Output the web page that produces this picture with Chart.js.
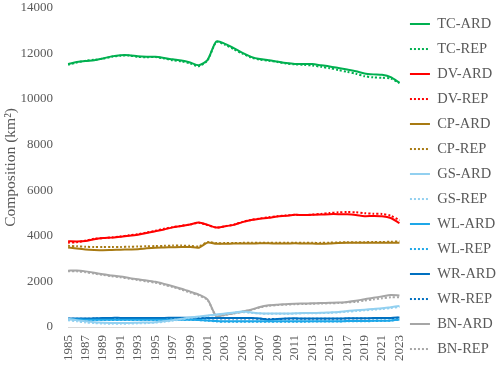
<!DOCTYPE html>
<html lang="en">
<head>
<meta charset="UTF-8">
<title>Composition</title>
<script src="https://cdn.jsdelivr.net/npm/chart.js"></script>
<style>
  html, body { margin: 0; padding: 0; background: #fff; }
  #wrap { width: 498px; height: 369px; }
</style>
</head>
<body>
<div id="wrap"><canvas id="chart"></canvas></div>
<script>
const years = [];
for (let y = 1985; y <= 2023; y++) years.push(String(y));

const TC_ARD = [11530, 11620, 11670, 11700, 11780, 11870, 11920, 11920, 11870, 11850, 11850, 11800, 11740, 11690, 11600, 11480, 11720, 12520, 12420, 12230, 12020, 11850, 11750, 11700, 11640, 11580, 11540, 11540, 11530, 11480, 11430, 11360, 11290, 11220, 11120, 11080, 11060, 10960, 10710];
const TC_REP = [11500, 11600, 11680, 11720, 11770, 11850, 11900, 11910, 11850, 11830, 11840, 11780, 11700, 11650, 11560, 11440, 11700, 12500, 12380, 12180, 11990, 11820, 11720, 11680, 11620, 11560, 11520, 11500, 11470, 11410, 11350, 11270, 11190, 11110, 11000, 10950, 10930, 10900, 10700];
const DV_ARD = [3760, 3750, 3770, 3850, 3900, 3920, 3960, 4000, 4050, 4120, 4200, 4280, 4370, 4430, 4500, 4580, 4480, 4360, 4420, 4480, 4600, 4690, 4750, 4790, 4850, 4880, 4920, 4910, 4920, 4930, 4950, 4950, 4940, 4910, 4860, 4870, 4860, 4780, 4560];
const DV_REP = [3700, 3720, 3790, 3870, 3900, 3930, 3970, 4020, 4070, 4140, 4220, 4310, 4380, 4440, 4500, 4570, 4470, 4360, 4420, 4490, 4610, 4700, 4760, 4810, 4860, 4890, 4920, 4910, 4930, 4960, 5000, 5030, 5040, 5030, 4990, 4970, 4960, 4880, 4680];
const CP_ARD = [3490, 3440, 3400, 3380, 3370, 3380, 3390, 3400, 3410, 3450, 3480, 3490, 3500, 3510, 3510, 3480, 3700, 3650, 3650, 3660, 3660, 3660, 3670, 3670, 3660, 3660, 3670, 3660, 3660, 3650, 3660, 3680, 3690, 3690, 3690, 3690, 3690, 3690, 3690];
const CP_REP = [3560, 3540, 3520, 3510, 3510, 3510, 3510, 3520, 3530, 3540, 3550, 3560, 3570, 3570, 3560, 3540, 3720, 3680, 3680, 3680, 3690, 3690, 3690, 3690, 3690, 3690, 3690, 3690, 3690, 3690, 3700, 3710, 3720, 3720, 3720, 3730, 3730, 3740, 3760];
const GS_ARD = [360, 300, 250, 210, 190, 180, 175, 180, 190, 195, 210, 250, 300, 360, 420, 460, 500, 550, 590, 640, 680, 640, 600, 590, 590, 590, 600, 610, 610, 620, 640, 660, 700, 730, 760, 790, 820, 870, 920];
const GS_REP = [300, 250, 200, 170, 150, 140, 140, 150, 160, 170, 190, 230, 280, 340, 400, 440, 480, 530, 570, 620, 650, 620, 590, 580, 580, 580, 590, 600, 600, 610, 620, 640, 670, 700, 730, 760, 790, 830, 880];
const WL_ARD = [340, 330, 320, 320, 320, 320, 320, 320, 320, 320, 320, 320, 320, 320, 320, 310, 290, 260, 250, 250, 250, 250, 250, 250, 250, 250, 250, 250, 250, 250, 250, 250, 260, 260, 260, 270, 270, 280, 330];
const WL_REP = [330, 320, 310, 310, 310, 310, 310, 310, 310, 310, 310, 310, 310, 320, 320, 300, 280, 240, 230, 230, 230, 230, 230, 230, 230, 230, 230, 230, 240, 240, 240, 240, 250, 250, 250, 260, 270, 280, 320];
const WR_ARD = [370, 370, 370, 380, 390, 400, 400, 400, 400, 400, 400, 400, 410, 410, 410, 400, 400, 390, 390, 390, 390, 390, 370, 320, 350, 370, 380, 370, 370, 370, 370, 370, 380, 380, 380, 390, 390, 400, 420];
const WR_REP = [360, 360, 360, 370, 370, 380, 380, 380, 380, 390, 390, 390, 390, 390, 390, 390, 380, 370, 370, 370, 370, 370, 360, 350, 350, 360, 360, 360, 360, 360, 360, 360, 370, 370, 370, 370, 380, 380, 410];
const BN_ARD = [2470, 2480, 2440, 2380, 2310, 2260, 2210, 2150, 2090, 2040, 1980, 1890, 1790, 1680, 1550, 1420, 1200, 480, 540, 600, 680, 760, 880, 950, 980, 1000, 1020, 1030, 1040, 1050, 1060, 1070, 1100, 1150, 1220, 1280, 1340, 1400, 1380];
const BN_REP = [2440, 2440, 2400, 2340, 2280, 2230, 2180, 2120, 2060, 2000, 1940, 1850, 1750, 1640, 1510, 1380, 1180, 470, 530, 590, 670, 750, 860, 930, 960, 980, 1000, 1010, 1020, 1030, 1040, 1050, 1080, 1100, 1160, 1210, 1260, 1300, 1300];

const seriesNames = ['TC', 'DV', 'CP', 'GS', 'WL', 'WR', 'BN'];
const seriesColors = ['#00b050', '#ff0000', '#a87a12', '#92d0f0', '#1ea7e8', '#0070c0', '#a6a6a6'];
const ardData = [TC_ARD, DV_ARD, CP_ARD, GS_ARD, WL_ARD, WR_ARD, BN_ARD];
const repData = [TC_REP, DV_REP, CP_REP, GS_REP, WL_REP, WR_REP, BN_REP];

const datasets = [];
seriesNames.forEach((name, i) => {
    datasets.push({
        label: name + '-ARD',
        data: ardData[i],
        borderColor: seriesColors[i],
        backgroundColor: seriesColors[i],
        borderWidth: 2,
        pointRadius: 0,
        tension: 0.25
    });
    datasets.push({
        label: name + '-REP',
        data: repData[i],
        borderColor: seriesColors[i],
        backgroundColor: seriesColors[i],
        borderWidth: 2,
        borderDash: [2, 2],
        pointRadius: 0,
        tension: 0.25
    });
});

const textColor = '#595959';
const serif = "'Liberation Serif', 'DejaVu Serif', serif";

new Chart(document.getElementById('chart'), {
    type: 'line',
    data: { labels: years, datasets: datasets },
    options: {
        responsive: true,
        maintainAspectRatio: false,
        animation: false,
        layout: { padding: { top: -2, right: -8, bottom: 0, left: 2 } },
        plugins: {
            tooltip: { enabled: false },
            legend: {
                position: 'right',
                align: 'start',
                // blank title only pushes the items down a few px
                title: { display: true, text: ' ', padding: 0, font: { size: 6.9 } },
                labels: {
                    usePointStyle: true,
                    pointStyle: 'line',
                    pointStyleWidth: 20,
                    padding: 10.5,
                    color: textColor,
                    font: { family: serif, size: 14.5 },
                    generateLabels: c => {
                        const items = Chart.defaults.plugins.legend.labels.generateLabels(c);
                        items.forEach(it => {
                            const ds = c.data.datasets[it.datasetIndex];
                            it.lineDash = ds.borderDash || [];
                            it.lineWidth = 2;
                            it.strokeStyle = ds.borderColor;
                        });
                        return items;
                    }
                }
            }
        },
        scales: {
            x: {
                offset: false,
                grid: { display: false, drawTicks: false },
                border: { display: true, color: '#d9d9d9', width: 1 },
                ticks: {
                    autoSkip: false,
                    maxRotation: 90,
                    minRotation: 90,
                    padding: 8,
                    color: textColor,
                    font: { family: serif, size: 13 },
                    callback: function(value, index) {
                        return index % 2 === 0 ? this.getLabelForValue(value) : '';
                    }
                }
            },
            y: {
                min: 0,
                max: 14000,
                grid: { display: false, drawTicks: true, tickLength: 15 },
                border: { display: false },
                ticks: {
                    stepSize: 2000,
                    padding: 0,
                    color: textColor,
                    font: { family: serif, size: 13 },
                    callback: v => String(v)
                },
                title: {
                    display: true,
                    text: 'Composition (km²)',
                    color: textColor,
                    padding: 0,
                    font: { family: serif, size: 15.5 }
                }
            }
        }
    }
});
</script>
</body>
</html>
